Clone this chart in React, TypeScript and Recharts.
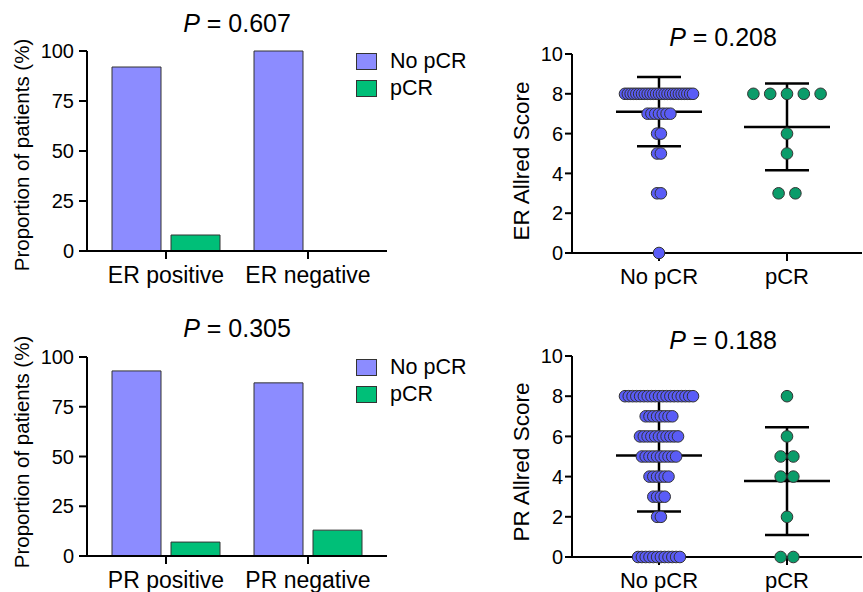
import React from "react";
import { BarChart, Bar, XAxis, YAxis, ScatterChart, Scatter, ErrorBar } from "recharts";

const FONT = '"Liberation Sans", Arial, Helvetica, sans-serif';
const NO_PCR_BAR = "#8c8cff";
const PCR_BAR = "#00bf78";
const NO_PCR_DOT = "#5a5cf7";
const PCR_DOT = "#0b9c6a";

// percentages for the bar panels
const erCategories = ["ER positive", "ER negative"];
const erNoPcrPct = [92, 100];
const erPcrPct = [8, 0];
const prCategories = ["PR positive", "PR negative"];
const prNoPcrPct = [93, 87];
const prPcrPct = [7, 13];

// Allred scores for the dot panels
const groups = ["No pCR", "pCR"];
const erNoPcrLevels = [8, 7, 6, 5, 3, 0];
const erNoPcrCounts = [25, 7, 2, 2, 2, 1];
const erPcrScores = [8, 8, 8, 8, 8, 6, 5, 3, 3];
const prNoPcrLevels = [8, 7, 6, 5, 4, 3, 2, 0];
const prNoPcrCounts = [19, 8, 11, 10, 6, 4, 2, 12];
const prPcrScores = [8, 6, 5, 5, 4, 4, 2, 0, 0];

const pValues = ["0.607", "0.208", "0.305", "0.188"];
const pctTicks = [0, 25, 50, 75, 100];
const scoreTicks = [0, 2, 4, 6, 8, 10];

const PX_PER_GROUP = 128;

const expand = (levels: number[], counts: number[]) =>
  levels.flatMap((v, i) => Array(counts[i]).fill(v));

// spread equal scores sideways like a prism scatter dot plot
function swarm(scores: number[], group: number, stepPx: number, maxSpanPx: number) {
  const byLevel = new Map<number, number>();
  scores.forEach((s) => byLevel.set(s, (byLevel.get(s) || 0) + 1));
  const pts: { x: number; y: number }[] = [];
  byLevel.forEach((n, level) => {
    const step = n > 1 ? Math.min(stepPx, maxSpanPx / (n - 1)) : 0;
    for (let i = 0; i < n; i++) {
      pts.push({ x: group + ((i - (n - 1) / 2) * step) / PX_PER_GROUP, y: level });
    }
  });
  return pts;
}

function meanSd(scores: number[]) {
  const n = scores.length;
  const mean = scores.reduce((a, b) => a + b, 0) / n;
  const v = scores.reduce((a, b) => a + (b - mean) * (b - mean), 0) / (n - 1);
  return { mean, sd: Math.sqrt(v) };
}

const axisLine = { stroke: "#000", strokeWidth: 2 };

const Title = ({ x, y, p }: { x: number; y: number; p: string }) => (
  <div
    style={{
      position: "absolute",
      left: x,
      top: y,
      transform: "translate(-50%, -50%)",
      fontSize: 25,
      whiteSpace: "nowrap",
      lineHeight: 1,
    }}
  >
    <i>P</i> = {p}
  </div>
);

const VLabel = ({ x, y, text, size }: { x: number; y: number; text: string; size: number }) => (
  <div
    style={{
      position: "absolute",
      left: x,
      top: y,
      transform: "translate(-50%, -50%) rotate(-90deg)",
      fontSize: size,
      whiteSpace: "nowrap",
      lineHeight: 1,
    }}
  >
    {text}
  </div>
);

const LegendBox = ({ top }: { top: number }) => (
  <>
    {[
      { label: "No pCR", color: NO_PCR_BAR },
      { label: "pCR", color: PCR_BAR },
    ].map((it, i) => (
      <div key={it.label} style={{ position: "absolute", left: 356, top: top + i * 27 }}>
        <div
          style={{
            position: "absolute",
            left: 0,
            top: 0,
            width: 19,
            height: 15,
            background: it.color,
            border: "1px solid #333",
          }}
        />
        <div
          style={{
            position: "absolute",
            left: 34,
            top: 9,
            transform: "translateY(-50%)",
            fontSize: 21.5,
            lineHeight: 1,
            whiteSpace: "nowrap",
          }}
        >
          {it.label}
        </div>
      </div>
    ))}
  </>
);

type BarProps = {
  boxTop: number;
  plotTop: number;
  plotBottom: number;
  categories: string[];
  noPcr: number[];
  pcr: number[];
};

const BarPanel = ({ boxTop, plotTop, plotBottom, categories, noPcr, pcr }: BarProps) => {
  const data = categories.map((c, i) => ({ cat: c, noPcr: noPcr[i], pcr: pcr[i] }));
  const h = 296;
  return (
    <div style={{ position: "absolute", left: 0, top: boxTop }}>
      <BarChart
        width={480}
        height={h}
        data={data}
        margin={{ top: plotTop - boxTop, right: 93, bottom: boxTop + h - plotBottom - 30, left: 27 }}
        barSize={49}
        barGap={10}
      >
        <XAxis
          dataKey="cat"
          height={30}
          padding={{ left: 8, right: 8 }}
          axisLine={axisLine}
          tickLine={axisLine}
          tickSize={8}
          tickMargin={8}
          tick={{ fontSize: 23, fill: "#000" }}
          interval={0}
        />
        <YAxis
          width={60}
          domain={[0, 100]}
          ticks={pctTicks}
          axisLine={axisLine}
          tickLine={axisLine}
          tickSize={8}
          tickMargin={5}
          tick={{ fontSize: 20, fill: "#000" }}
        />
        <Bar dataKey="noPcr" fill={NO_PCR_BAR} stroke="#333" strokeWidth={1} isAnimationActive={false} />
        <Bar dataKey="pcr" fill={PCR_BAR} stroke="#333" strokeWidth={1} isAnimationActive={false} />
      </BarChart>
    </div>
  );
};

type DotProps = {
  boxTop: number;
  plotTop: number;
  plotBottom: number;
  noPcrScores: number[];
  pcrScores: number[];
  pcrStep: number;
};

const circle = (fill: string) => (props: any) => (
  <circle cx={props.cx} cy={props.cy} r={5.8} fill={fill} stroke="#333" strokeWidth={1} />
);

const meanLine = (props: any) => (
  <line x1={props.cx - 43} x2={props.cx + 43} y1={props.cy} y2={props.cy} stroke="#000" strokeWidth={2.5} />
);

const DotPanel = ({ boxTop, plotTop, plotBottom, noPcrScores, pcrScores, pcrStep }: DotProps) => {
  const h = 296;
  const left = 572;
  const right = 862;
  const xMin = (left - 659) / PX_PER_GROUP;
  const xMax = (right - 659) / PX_PER_GROUP;
  const a = meanSd(noPcrScores);
  const b = meanSd(pcrScores);
  const means = [
    { x: 0, y: a.mean, sd: a.sd },
    { x: 1, y: b.mean, sd: b.sd },
  ];
  const noPts = swarm(noPcrScores, 0, 3.8, 68);
  const pPts = swarm(pcrScores, 1, pcrStep, 68);
  return (
    <div style={{ position: "absolute", left: 480, top: boxTop }}>
      <ScatterChart
        width={383}
        height={h}
        margin={{ top: plotTop - boxTop, right: 863 - right, bottom: boxTop + h - plotBottom - 30, left: left - 480 - 60 }}
      >
        <XAxis
          type="number"
          dataKey="x"
          domain={[xMin, xMax]}
          ticks={[0, 1]}
          tickFormatter={(v: number) => groups[Math.round(v)]}
          height={30}
          axisLine={axisLine}
          tickLine={axisLine}
          tickSize={8}
          tickMargin={7}
          tick={{ fontSize: 22, fill: "#000" }}
          interval={0}
        />
        <YAxis
          type="number"
          dataKey="y"
          width={60}
          domain={[0, 10]}
          ticks={scoreTicks}
          axisLine={axisLine}
          tickLine={axisLine}
          tickSize={7}
          tickMargin={2}
          tick={{ fontSize: 20, fill: "#000" }}
        />
        <Scatter data={means} shape={meanLine} isAnimationActive={false}>
          <ErrorBar dataKey="sd" direction="y" width={22} stroke="#000" strokeWidth={2.5} isAnimationActive={false} />
        </Scatter>
        <Scatter data={noPts} shape={circle(NO_PCR_DOT)} isAnimationActive={false} />
        <Scatter data={pPts} shape={circle(PCR_DOT)} isAnimationActive={false} />
      </ScatterChart>
    </div>
  );
};

export default function App() {
  const erNoPcr = expand(erNoPcrLevels, erNoPcrCounts);
  const prNoPcr = expand(prNoPcrLevels, prNoPcrCounts);
  return (
    <div
      style={{
        position: "absolute",
        left: 0,
        top: 0,
        width: 863,
        height: 592,
        background: "#fff",
        fontFamily: FONT,
        color: "#000",
        overflow: "hidden",
      }}
    >
      <BarPanel boxTop={0} plotTop={51} plotBottom={251} categories={erCategories} noPcr={erNoPcrPct} pcr={erPcrPct} />
      <BarPanel boxTop={296} plotTop={357} plotBottom={556} categories={prCategories} noPcr={prNoPcrPct} pcr={prPcrPct} />
      <DotPanel boxTop={0} plotTop={54} plotBottom={253} noPcrScores={erNoPcr} pcrScores={erPcrScores} pcrStep={16.8} />
      <DotPanel boxTop={296} plotTop={356} plotBottom={557} noPcrScores={prNoPcr} pcrScores={prPcrScores} pcrStep={12.7} />

      <Title x={237} y={23} p={pValues[0]} />
      <Title x={723} y={37} p={pValues[1]} />
      <Title x={237} y={328} p={pValues[2]} />
      <Title x={723} y={340} p={pValues[3]} />

      <VLabel x={22} y={155} text="Proportion of patients (%)" size={20.5} />
      <VLabel x={22} y={452} text="Proportion of patients (%)" size={20.5} />
      <VLabel x={522} y={161} text="ER Allred Score" size={22.5} />
      <VLabel x={522} y={462} text="PR Allred Score" size={22.5} />

      <LegendBox top={53} />
      <LegendBox top={359} />
    </div>
  );
}
